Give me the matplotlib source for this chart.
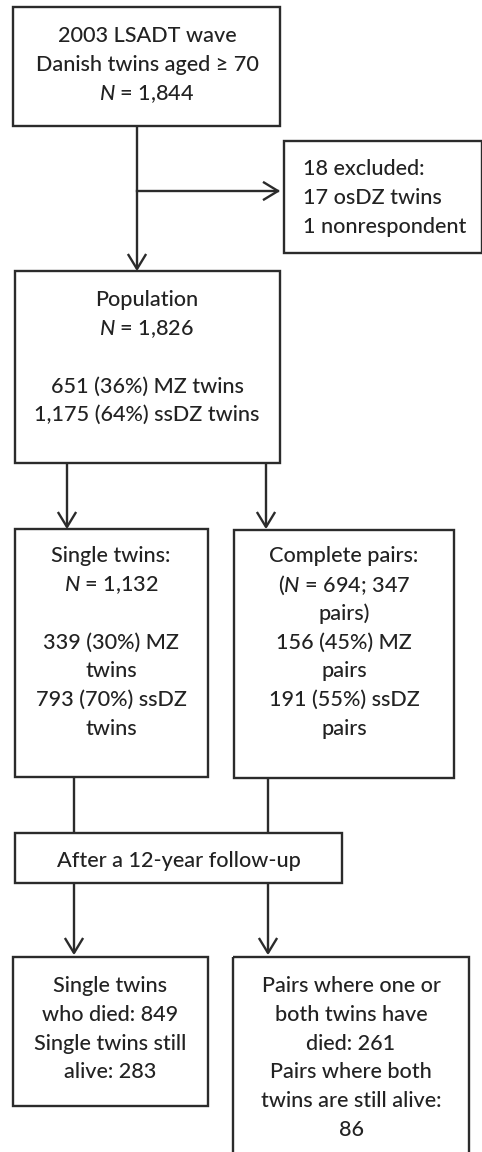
import matplotlib
matplotlib.use("Agg")
import matplotlib.pyplot as plt
from matplotlib.patches import Rectangle

FONT = "Lato"
plt.rcParams['font.family'] = [FONT, 'DejaVu Sans']
plt.rcParams['font.weight'] = 'medium'
plt.rcParams['mathtext.fontset'] = 'custom'
plt.rcParams['mathtext.it'] = FONT + ':italic:medium'
plt.rcParams['mathtext.rm'] = FONT + ':medium'

# ---- content (text of each box) ----
start_lines = ["2003 LSADT wave", "Danish twins aged \u2265 70", r"$\mathit{N}$ = 1,844"]
excluded_lines = ["18 excluded:", "17 osDZ twins", "1 nonrespondent"]
population_lines = ["Population", r"$\mathit{N}$ = 1,826", "", "651 (36%) MZ twins", "1,175 (64%) ssDZ twins"]
single_lines = ["Single twins:", r"$\mathit{N}$ = 1,132", "", "339 (30%) MZ", "twins", "793 (70%) ssDZ", "twins"]
pairs_lines = ["Complete pairs:", r"($\mathit{N}$ = 694; 347", "pairs)", "156 (45%) MZ", "pairs", "191 (55%) ssDZ", "pairs"]
followup_lines = ["After a 12-year follow-up"]
single_out_lines = ["Single twins", "who died: 849", "Single twins still", "alive: 283"]
pairs_out_lines = ["Pairs where one or", "both twins have", "died: 261", "Pairs where both", "twins are still alive:", "86"]

W, H = 482, 1152
fig = plt.figure(figsize=(W / 100, H / 100), dpi=100)
ax = fig.add_axes([0, 0, 1, 1])
ax.set_xlim(0, W)
ax.set_ylim(H, 0)
ax.axis('off')

EC = "#2b2b2b"
TC = "#222222"
LW = 1.7
FS = 15.6
LH = 28.8


def box(x0, y0, x1, y1):
    ax.add_patch(Rectangle((x0, y0), x1 - x0, y1 - y0, fill=False, ec=EC, lw=LW, zorder=2))


def lines(lst, x, y0, ha='center'):
    for i, t in enumerate(lst):
        if t:
            ax.text(x, y0 + i * LH, t, ha=ha, va='center_baseline', fontsize=FS,
                    color=TC, fontweight='medium')


def vline(x, y0, y1):
    ax.plot([x, x], [y0, y1], color=EC, lw=LW, solid_capstyle='butt')


def down_arrow(x, y0, y1):
    vline(x, y0, y1)
    ax.plot([x - 8.5, x, x + 8.5], [y1 - 14, y1, y1 - 14], color=EC, lw=LW)


def right_arrow(x0, x1, y):
    ax.plot([x0, x1], [y, y], color=EC, lw=LW)
    ax.plot([x1 - 14, x1, x1 - 14], [y - 8.5, y, y + 8.5], color=EC, lw=LW)


# boxes
box(13, 7, 280, 126)
lines(start_lines, 147, 34)

box(284, 141, 482, 253)
lines(excluded_lines, 303, 167, ha='left')

down_arrow(137, 126, 269)
right_arrow(137, 278, 191)

box(15, 271, 280, 463)
lines(population_lines, 147, 298)

down_arrow(67, 463, 527)
down_arrow(266, 463, 527)

box(15, 529, 208, 777)
lines(single_lines, 111, 554)

box(234, 530, 454, 778)
lines(pairs_lines, 344, 554)

vline(74, 777, 833)
vline(268, 778, 833)

box(15, 833, 342, 883)
lines(followup_lines, 179, 859)

down_arrow(74, 883, 953)
down_arrow(268, 883, 953)

box(13, 957, 208, 1106)
lines(single_out_lines, 110, 984)

box(233, 957, 469, 1160)
lines(pairs_out_lines, 351, 984)

fig.savefig("out.png", dpi=100)
